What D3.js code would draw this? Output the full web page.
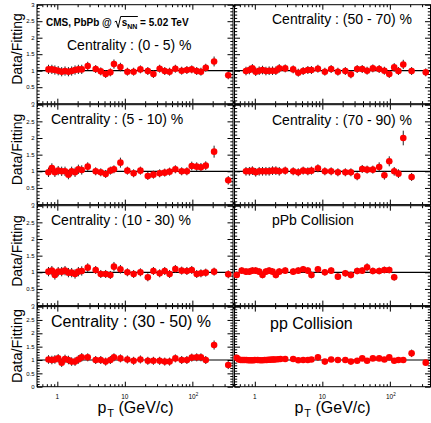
<!DOCTYPE html>
<html>
<head>
<meta charset="utf-8">
<script src="https://cdn.jsdelivr.net/npm/d3@7"></script>
<style>
  body { margin: 0; background: #fff; }
  text { font-family: 'Liberation Sans', Arial, Helvetica, sans-serif; fill: #000; white-space: pre; }
</style>
</head>
<body>
<div id="chart"></div>
<script>
// pT bin positions (GeV/c)
const ptPbPb = [0.74, 0.83, 0.92, 1.03, 1.16, 1.30, 1.46, 1.63, 1.83, 2.05, 2.30, 2.82, 3.7, 4.4, 5.2, 6.1, 6.9, 8.6, 10.9, 13.5, 17.0, 21.9, 26.5, 32.8, 39, 46, 56, 69.5, 83, 98, 116, 134, 158, 210, 340]
const ptPPb = [0.54, 0.64, 0.74, 0.83, 0.92, 1.03, 1.16, 1.30, 1.46, 1.63, 1.83, 2.05, 2.30, 2.82, 3.7, 4.4, 5.2, 6.1, 6.9, 8.6, 10.9, 13.5, 17.0, 21.9, 26.5, 32.8, 39, 46, 56, 69.5, 83, 98, 116]
const ptPP = [0.54, 0.58, 0.62, 0.66, 0.7, 0.75, 0.8, 0.85, 0.9, 0.95, 1.0, 1.1, 1.2, 1.3, 1.4, 1.5, 1.6, 1.7, 1.8, 1.9, 2.0, 2.2, 2.4, 2.82, 3.7, 4.4, 5.2, 6.1, 6.9, 8.6, 10.9, 13.5, 17.0, 21.9, 26.5, 32.8, 39, 46, 56, 69.5, 83, 98, 116, 134, 158, 210, 340]

// data / fit ratios
const ratio0to5 = [1.04, 1.04, 1.02, 1.0, 0.97, 0.99, 0.97, 0.99, 1.02, 1.04, 1.04, 1.14, 1.05, 0.98, 0.9, 0.95, 1.2, 1.11, 0.97, 0.97, 1.04, 0.99, 0.9, 1.06, 0.99, 0.97, 1.06, 1.0, 1.02, 1.04, 0.99, 0.97, 1.09, 1.28, 0.86]
const err0to5 = [0.14, 0.14, 0.14, 0.14, 0.14, 0.14, 0.14, 0.14, 0.14, 0.14, 0.14, 0.13, 0.12, 0.12, 0.12, 0.12, 0.14, 0.13, 0.12, 0.12, 0.12, 0.12, 0.12, 0.12, 0.12, 0.12, 0.12, 0.12, 0.12, 0.12, 0.12, 0.12, 0.12, 0.15, 0.12]

const ratio5to10 = [0.97, 1.1, 0.97, 1.02, 1.0, 1.0, 0.9, 1.0, 0.97, 1.06, 1.04, 1.14, 1.0, 0.97, 0.92, 1.02, 1.06, 1.26, 1.02, 0.94, 1.02, 0.86, 0.9, 0.94, 0.96, 0.99, 1.06, 1.0, 1.0, 1.16, 1.14, 1.12, 1.17, 1.59, 0.73]
const err5to10 = [0.14, 0.14, 0.14, 0.14, 0.14, 0.14, 0.14, 0.14, 0.14, 0.14, 0.14, 0.13, 0.12, 0.12, 0.12, 0.12, 0.12, 0.15, 0.12, 0.12, 0.12, 0.12, 0.12, 0.12, 0.12, 0.12, 0.12, 0.12, 0.12, 0.13, 0.13, 0.13, 0.13, 0.18, 0.13]

const ratio10to30 = [1.02, 1.05, 0.92, 1.02, 1.02, 1.05, 0.99, 0.99, 0.95, 1.02, 1.04, 1.14, 1.07, 0.95, 0.95, 0.92, 1.17, 1.09, 1.0, 0.95, 1.0, 0.85, 1.04, 0.97, 1.04, 0.95, 1.1, 1.05, 1.04, 1.07, 0.95, 0.97, 0.99, 1.02, 0.94]
const err10to30 = [0.14, 0.14, 0.14, 0.14, 0.14, 0.14, 0.14, 0.14, 0.14, 0.14, 0.14, 0.13, 0.12, 0.12, 0.12, 0.12, 0.14, 0.13, 0.12, 0.12, 0.12, 0.12, 0.12, 0.12, 0.12, 0.12, 0.12, 0.12, 0.12, 0.12, 0.12, 0.12, 0.12, 0.12, 0.12]

const ratio30to50 = [1.02, 1.0, 1.02, 1.06, 0.9, 1.04, 1.0, 0.94, 0.94, 1.02, 1.1, 1.1, 1.0, 1.0, 0.94, 1.0, 1.1, 1.06, 1.02, 0.97, 1.02, 0.97, 0.97, 0.97, 0.94, 0.94, 1.06, 1.0, 1.0, 1.09, 1.1, 1.1, 1.0, 1.56, 0.81]
const err30to50 = [0.16, 0.16, 0.16, 0.16, 0.16, 0.16, 0.16, 0.16, 0.16, 0.16, 0.16, 0.15, 0.15, 0.15, 0.15, 0.15, 0.15, 0.15, 0.15, 0.15, 0.15, 0.15, 0.15, 0.15, 0.15, 0.15, 0.15, 0.15, 0.15, 0.15, 0.15, 0.15, 0.15, 0.17, 0.15]

const ratio50to70 = [0.99, 1.02, 1.07, 0.97, 1.0, 1.02, 0.99, 1.0, 1.0, 1.0, 1.07, 1.07, 1.04, 0.94, 0.99, 1.02, 1.02, 1.06, 0.97, 1.05, 0.97, 0.99, 0.89, 1.05, 1.05, 1.0, 1.07, 1.05, 1.0, 0.9, 1.1, 0.99, 1.19, 0.99, 0.95]
const err50to70 = [0.13, 0.13, 0.13, 0.13, 0.13, 0.13, 0.13, 0.13, 0.13, 0.13, 0.13, 0.12, 0.12, 0.12, 0.12, 0.12, 0.12, 0.12, 0.12, 0.12, 0.12, 0.12, 0.12, 0.12, 0.12, 0.12, 0.12, 0.12, 0.12, 0.12, 0.13, 0.12, 0.14, 0.12, 0.12]

// 70-90 % has no point in the last pT bin
const ratio70to90 = [1.0, 1.0, 1.02, 0.97, 1.0, 1.0, 1.0, 1.0, 1.02, 1.02, 1.0, 1.02, 1.0, 0.97, 1.02, 1.0, 1.02, 1.09, 1.0, 1.0, 0.97, 0.97, 0.97, 0.85, 1.07, 1.05, 1.05, 1.13, 0.88, 1.3, 1.0, 0.93, 2.0, 0.83]
const err70to90 = [0.13, 0.13, 0.13, 0.13, 0.13, 0.13, 0.13, 0.13, 0.13, 0.13, 0.13, 0.12, 0.12, 0.12, 0.12, 0.12, 0.12, 0.12, 0.12, 0.12, 0.12, 0.12, 0.12, 0.12, 0.12, 0.12, 0.12, 0.14, 0.13, 0.15, 0.13, 0.13, 0.22, 0.12]

const ratioPPb = [0.92, 1.05, 1.02, 1.02, 1.05, 1.05, 1.02, 0.92, 1.02, 1.05, 1.02, 0.92, 1.02, 1.05, 1.02, 1.05, 1.09, 1.05, 0.92, 1.09, 1.0, 1.05, 0.87, 0.97, 0.92, 1.04, 1.05, 1.15, 1.04, 1.04, 1.07, 1.07, 0.85]
const errPPb = [0.1, 0.1, 0.1, 0.1, 0.1, 0.1, 0.1, 0.1, 0.1, 0.1, 0.1, 0.1, 0.1, 0.1, 0.1, 0.1, 0.1, 0.1, 0.1, 0.1, 0.1, 0.1, 0.1, 0.1, 0.1, 0.1, 0.1, 0.12, 0.1, 0.1, 0.1, 0.1, 0.1]

const ratioPP = [1.08, 1.02, 1.0, 1.0, 1.0, 1.0, 0.99, 0.99, 0.99, 0.99, 1.0, 1.0, 0.99, 0.99, 1.0, 1.0, 1.01, 1.01, 1.02, 1.02, 1.02, 1.03, 1.04, 1.04, 1.04, 0.99, 1.0, 1.0, 1.02, 1.1, 0.94, 1.02, 1.0, 1.0, 0.94, 0.97, 1.06, 0.97, 1.06, 1.06, 1.02, 1.1, 0.97, 1.0, 1.0, 1.25, 0.9]
const errPP = [0.03, 0.02, 0.02, 0.02, 0.02, 0.02, 0.02, 0.02, 0.02, 0.02, 0.02, 0.02, 0.02, 0.02, 0.02, 0.02, 0.02, 0.02, 0.02, 0.02, 0.02, 0.02, 0.02, 0.02, 0.02, 0.02, 0.02, 0.02, 0.03, 0.12, 0.03, 0.03, 0.03, 0.03, 0.03, 0.03, 0.03, 0.03, 0.03, 0.03, 0.03, 0.04, 0.03, 0.03, 0.03, 0.14, 0.06]

const panelNames = ['Centrality : (0 - 5) %', 'Centrality : (50 - 70) %', 'Centrality : (5 - 10) %', 'Centrality : (70 - 90) %',
  'Centrality : (10 - 30) %', 'pPb Collision', 'Centrality : (30 - 50) %', 'pp Collision']

const xDomain = [0.5, 400]
const yDomain = [0, 3]
const xMajorTicks = [1, 10, 100]
const xTickLabels = ['1', '10', '10']
const xTickExponents = ['', '', '2']
const yMajorTicks = [0, 0.5, 1, 1.5, 2, 2.5, 3]

const width = 431
const height = 423

const svg = d3.select('#chart')
  .append('svg')
  .attr('width', width)
  .attr('height', height)

svg.append('rect').attr('width', width).attr('height', height).attr('fill', '#fff')

const cols = [
  { left: 37, right: 233, titleX: 135.5 },
  { left: 234.5, right: 430.5, titleX: 332.5 }
]
const rows = [
  { top: 4.7, bottom: 103.7, clipTop: 0, clipBottom: 104.2, titleY: 49, titleSize: 14 },
  { top: 104.7, bottom: 204.6, clipTop: 104.2, clipBottom: 205.2, titleY: 149.5, titleSize: 14 },
  { top: 205.7, bottom: 305.6, clipTop: 205.2, clipBottom: 306.1, titleY: 251, titleSize: 14 },
  { top: 306.6, bottom: 386.7, clipTop: 306.1, clipBottom: 423, titleY: 346, titleSize: 14.5 }
]

const panels = [
  { row: 0, col: 0, pt: ptPbPb, ratio: ratio0to5, err: err0to5, tx: 67, ty: 50, fs: 14 },
  { row: 0, col: 1, pt: ptPbPb, ratio: ratio50to70, err: err50to70, tx: 272, ty: 23.5, fs: 14 },
  { row: 1, col: 0, pt: ptPbPb, ratio: ratio5to10, err: err5to10, tx: 51, ty: 124, fs: 14 },
  { row: 1, col: 1, pt: ptPbPb, ratio: ratio70to90, err: err70to90, tx: 272, ty: 125, fs: 14 },
  { row: 2, col: 0, pt: ptPbPb, ratio: ratio10to30, err: err10to30, tx: 51, ty: 225, fs: 14 },
  { row: 2, col: 1, pt: ptPPb, ratio: ratioPPb, err: errPPb, tx: 272, ty: 225, fs: 14 },
  { row: 3, col: 0, pt: ptPbPb, ratio: ratio30to50, err: err30to50, tx: 51, ty: 326.5, fs: 16 },
  { row: 3, col: 1, pt: ptPP, ratio: ratioPP, err: errPP, tx: 270, ty: 328.5, fs: 16 }
]

// draw ticks through a d3 axis, without its domain path
function ticks (g, axis, transform) {
  g.append('g')
    .attr('transform', transform)
    .call(axis.tickFormat(''))
    .call(a => a.select('.domain').remove())
    .selectAll('line')
    .attr('stroke', '#000')
}

panels.forEach((p, i) => {
  const col = cols[p.col]
  const row = rows[p.row]
  const x = d3.scaleLog().domain(xDomain).range([col.left, col.right])
  const y = d3.scaleLinear().domain(yDomain).range([row.bottom, row.top])
  const g = svg.append('g')

  const xMinor = x.ticks().filter(v => xMajorTicks.indexOf(v) === -1)
  const yMinor = y.ticks(30).filter(v => Math.abs(v * 2 - Math.round(v * 2)) > 1e-6)

  ticks(g, d3.axisBottom(x).tickValues(xMajorTicks).tickSize(-5), `translate(0,${row.bottom})`)
  ticks(g, d3.axisBottom(x).tickValues(xMinor).tickSize(-2.5), `translate(0,${row.bottom})`)
  ticks(g, d3.axisTop(x).tickValues(xMajorTicks).tickSize(-5), `translate(0,${row.top})`)
  ticks(g, d3.axisTop(x).tickValues(xMinor).tickSize(-2.5), `translate(0,${row.top})`)
  ticks(g, d3.axisLeft(y).tickValues(yMajorTicks).tickSize(-5.5), `translate(${col.left},0)`)
  ticks(g, d3.axisLeft(y).tickValues(yMinor).tickSize(-2.7), `translate(${col.left},0)`)
  ticks(g, d3.axisRight(y).tickValues(yMajorTicks).tickSize(-5.5), `translate(${col.right},0)`)
  ticks(g, d3.axisRight(y).tickValues(yMinor).tickSize(-2.7), `translate(${col.right},0)`)

  g.append('rect')
    .attr('x', col.left)
    .attr('y', row.top)
    .attr('width', col.right - col.left)
    .attr('height', row.bottom - row.top)
    .attr('fill', 'none')
    .attr('stroke', '#000')
    .attr('stroke-width', 1)

  // reference line at 1
  g.append('line')
    .attr('x1', col.left)
    .attr('x2', col.right)
    .attr('y1', y(1))
    .attr('y2', y(1))
    .attr('stroke', '#000')
    .attr('stroke-width', 1.2)

  const pts = p.ratio.map((r, k) => ({ pt: p.pt[k], r: r, e: p.err[k] }))

  g.selectAll('.err')
    .data(pts)
    .enter()
    .append('line')
    .attr('class', 'err')
    .attr('x1', d => x(d.pt))
    .attr('x2', d => x(d.pt))
    .attr('y1', d => y(d.r - d.e))
    .attr('y2', d => y(d.r + d.e))
    .attr('stroke', '#222')
    .attr('stroke-width', 1)

  g.selectAll('.pt')
    .data(pts)
    .enter()
    .append('circle')
    .attr('class', 'pt')
    .attr('cx', d => x(d.pt))
    .attr('cy', d => y(d.r))
    .attr('r', 3.3)
    .attr('fill', '#ff0000')

  g.append('text')
    .attr('x', p.tx)
    .attr('y', p.ty)
    .attr('font-size', p.fs)
    .text(panelNames[i])

  // y labels, clipped to the pad like the original
  if (p.col === 0) {
    const clipId = 'clip' + p.row
    svg.append('clipPath').attr('id', clipId)
      .append('rect')
      .attr('x', 0)
      .attr('y', row.clipTop)
      .attr('width', col.right)
      .attr('height', row.clipBottom - row.clipTop)
    svg.append('g')
      .attr('clip-path', `url(#${clipId})`)
      .selectAll('text')
      .data(yMajorTicks)
      .enter()
      .append('text')
      .attr('x', 34.5)
      .attr('y', d => y(d))
      .attr('dy', '0.36em')
      .attr('text-anchor', 'end')
      .attr('font-size', 6)
      .text(d => String(d))
  }

  // x labels and title only on the bottom row
  if (p.row === 3) {
    xMajorTicks.forEach((v, k) => {
      const t = svg.append('text')
        .attr('x', x(v) + (xTickExponents[k] ? 1 : 0))
        .attr('y', 398.5)
        .attr('text-anchor', 'middle')
        .attr('font-size', 6.5)
        .text(xTickLabels[k])
      if (xTickExponents[k]) {
        t.append('tspan').attr('font-size', 4.5).attr('dy', -3).text(xTickExponents[k])
      }
    })
    const title = svg.append('text')
      .attr('x', col.titleX)
      .attr('y', 412.5)
      .attr('text-anchor', 'middle')
      .attr('font-size', 16)
    title.append('tspan').text('p')
    title.append('tspan').attr('font-size', 11).attr('dy', 4).attr('dx', 1).text('T')
    title.append('tspan').attr('dy', -4).text(' (GeV/c)')
  }
})

// y titles
rows.forEach(row => {
  svg.append('text')
    .attr('transform', `translate(22,${row.titleY}) rotate(-90)`)
    .attr('text-anchor', 'middle')
    .attr('font-size', row.titleSize)
    .text('Data/Fitting')
})

// experiment label with the sqrt(s_NN) sign
const cms = svg.append('text')
  .attr('x', 46)
  .attr('y', 26)
  .attr('font-size', 10)
  .attr('font-weight', 'bold')
cms.append('tspan').text('CMS, PbPb @ ')
cms.append('tspan').attr('dx', 7).text('s')
cms.append('tspan').attr('font-size', 7).attr('dy', 2.5).text('NN')
cms.append('tspan').attr('dy', -2.5).text(' = 5.02 TeV')

const node = cms.node()
const sStart = node.getStartPositionOfChar(12).x
const nnEnd = node.getEndPositionOfChar(14).x
const x0 = sStart - 7
svg.append('path')
  .attr('d', `M${x0},22 L${x0 + 1.5},21 L${x0 + 3.5},27.5 L${x0 + 6},16.5 L${nnEnd + 0.5},16.5`)
  .attr('fill', 'none')
  .attr('stroke', '#000')
  .attr('stroke-width', 1)
</script>
</body>
</html>
